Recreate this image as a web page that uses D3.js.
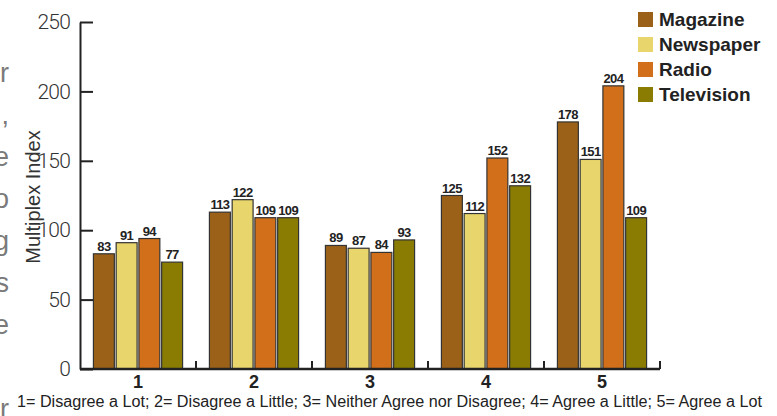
<!DOCTYPE html>
<html>
<head>
<meta charset="utf-8">
<script src="https://cdn.jsdelivr.net/npm/d3@7"></script>
<style>
  html, body { margin: 0; padding: 0; background: #fff; }
  svg { display: block; }
</style>
</head>
<body>
<svg id="chart" width="777" height="416"></svg>
<script>
// Survey response categories and media series
const categories = ["1", "2", "3", "4", "5"];
const seriesNames = ["Magazine", "Newspaper", "Radio", "Television"];
const magazine   = [83, 113, 89, 125, 178];
const newspaper  = [91, 122, 87, 112, 151];
const radio      = [94, 109, 84, 152, 204];
const television = [77, 109, 93, 132, 109];
const yTicks = [0, 50, 100, 150, 200, 250];
const yLabel = "Multiplex Index";
const caption = "1= Disagree a Lot; 2= Disagree a Little; 3= Neither Agree nor Disagree; 4= Agree a Little; 5= Agree a Lot";
// Line endings of the neighbouring text column
const marginGlyphs = ["r", ",", "e", "o", "g", "s", "e", "", "r"];

const colors = ["#9c6118", "#e8d56b", "#d16f1a", "#8a7c03"];
const seriesValues = [magazine, newspaper, radio, television];

const rows = categories.map((c, i) => ({
  cat: c,
  vals: seriesNames.map((s, j) => ({ series: s, value: seriesValues[j][i] }))
}));

const svg = d3.select("#chart");
const sans = "'Liberation Sans', Arial, Helvetica, sans-serif";

const y = d3.scaleLinear().domain([0, 250]).range([369, 22]);
const x0 = d3.scaleBand().domain(categories).range([80, 660])
  .paddingInner(0.2).paddingOuter(0.1);
const x1 = d3.scaleBand().domain(seriesNames).range([0, x0.bandwidth()]).padding(0.08);
const color = d3.scaleOrdinal().domain(seriesNames).range(colors);

// Margin text fragments, clipped by the left edge
svg.append("g").selectAll("text").data(marginGlyphs).join("text")
  .attr("x", 9).attr("y", (d, i) => 82 + i * 42)
  .attr("text-anchor", "end")
  .attr("font-family", sans)
  .attr("font-size", 27).attr("fill", "#7a7a7a")
  .text(d => d);

// Bars
const groups = svg.append("g").selectAll("g").data(rows).join("g")
  .attr("transform", d => `translate(${x0(d.cat)},0)`);

groups.selectAll("rect").data(d => d.vals).join("rect")
  .attr("x", d => x1(d.series))
  .attr("y", d => y(d.value))
  .attr("width", x1.bandwidth())
  .attr("height", d => y(0) - y(d.value))
  .attr("fill", d => color(d.series))
  .attr("stroke", "#333").attr("stroke-width", 1.2);

groups.selectAll("text").data(d => d.vals).join("text")
  .attr("x", d => x1(d.series) + x1.bandwidth() / 2)
  .attr("y", d => y(d.value) - 3)
  .attr("text-anchor", "middle")
  .attr("font-family", sans).attr("font-weight", "bold")
  .attr("font-size", 13).attr("fill", "#222")
  .attr("letter-spacing", -0.7)
  .text(d => d.value);

// Y axis
const yAxis = svg.append("g").attr("transform", "translate(80,0)")
  .call(d3.axisLeft(y).tickValues(yTicks).tickSize(-13).tickSizeOuter(0).tickPadding(10));
yAxis.select(".domain").attr("stroke", "#222").attr("stroke-width", 2);
yAxis.selectAll(".tick line").attr("stroke", "#222").attr("stroke-width", 2);
yAxis.selectAll(".tick text")
  .attr("font-family", "Roboto, 'Liberation Sans', sans-serif")
  .attr("font-weight", 300).attr("font-size", 21).attr("fill", "#333")
  .attr("letter-spacing", -0.8);

svg.append("text")
  .attr("transform", "translate(40,197) rotate(-90)")
  .attr("text-anchor", "middle")
  .attr("font-family", sans)
  .attr("font-size", 20).attr("fill", "#333")
  .text(yLabel);

// X axis
const xAxis = svg.append("g").attr("transform", `translate(0,${y(0)})`)
  .call(d3.axisBottom(x0).tickSize(0).tickPadding(0));
xAxis.select(".domain").remove();
xAxis.selectAll(".tick text")
  .attr("y", 19).attr("dy", null)
  .attr("font-family", sans)
  .attr("font-weight", "bold").attr("font-size", 18).attr("fill", "#222");

const [r0, r1] = x0.range();
xAxis.append("line").attr("x1", r0).attr("x2", r1).attr("y1", 0).attr("y2", 0)
  .attr("stroke", "#222").attr("stroke-width", 2.5);
const step = x0.step();
const bounds = categories.slice(1).map(c => x0(c) - step * x0.paddingInner() / 2).concat([r1]);
xAxis.selectAll(".bound").data(bounds).join("line").attr("class", "bound")
  .attr("x1", d => d).attr("x2", d => d).attr("y1", 0).attr("y2", -8)
  .attr("stroke", "#222").attr("stroke-width", 2);

svg.append("text")
  .attr("x", 17).attr("y", 407)
  .attr("font-family", sans).attr("font-size", 16).attr("fill", "#222")
  .attr("textLength", 745).attr("lengthAdjust", "spacingAndGlyphs")
  .text(caption);

// Legend
const legend = svg.append("g").selectAll("g").data(seriesNames).join("g")
  .attr("transform", (d, i) => `translate(638,${12 + i * 25})`);
legend.append("rect").attr("width", 15).attr("height", 15)
  .attr("fill", d => color(d));
legend.append("text").attr("x", 21).attr("y", 14)
  .attr("font-family", sans).attr("font-weight", "bold")
  .attr("font-size", 19).attr("fill", "#222")
  .text(d => d);
</script>
</body>
</html>
